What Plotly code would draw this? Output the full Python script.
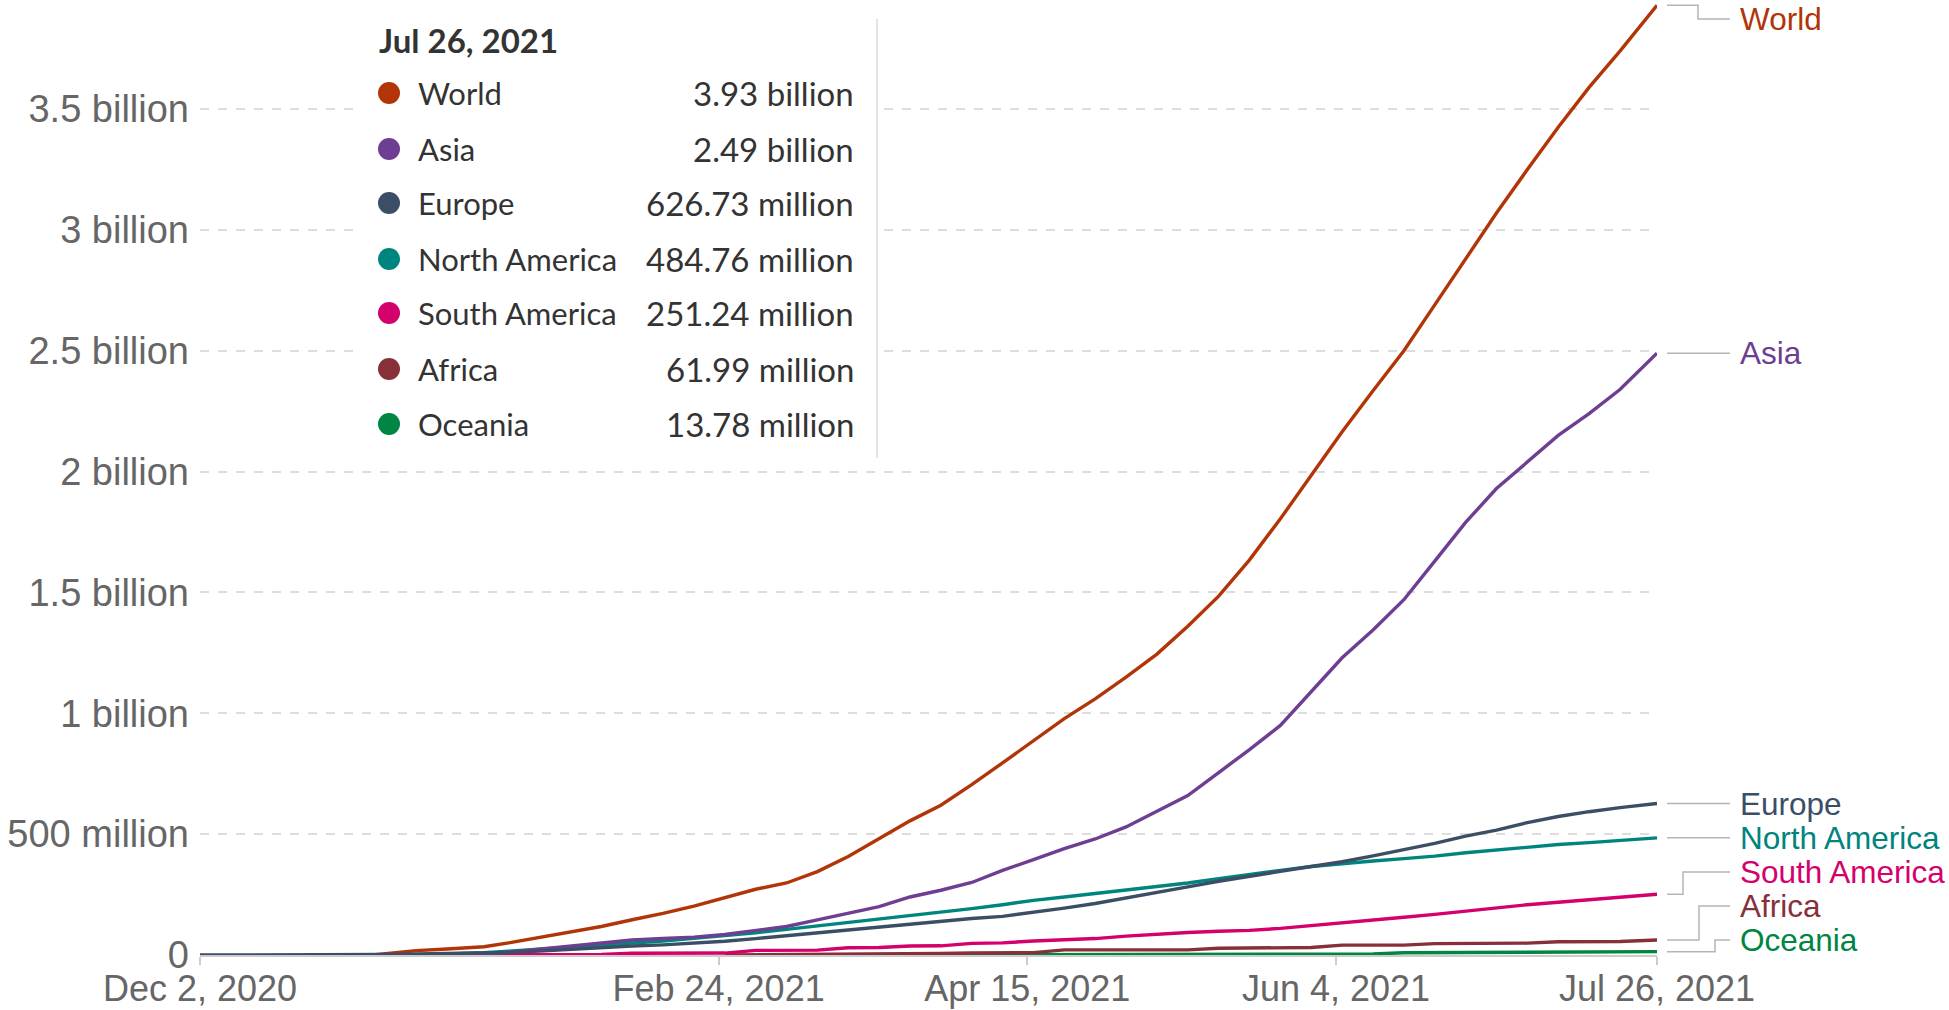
import plotly.graph_objects as go

# ---------------- data (values in millions) ----------------
dates = ["2020-12-02", "2020-12-27", "2020-12-30", "2021-01-01", "2021-01-06", "2021-01-11",
         "2021-01-17", "2021-01-21", "2021-01-26", "2021-01-31", "2021-02-05", "2021-02-10",
         "2021-02-15", "2021-02-20", "2021-02-25", "2021-03-02", "2021-03-07", "2021-03-12",
         "2021-03-17", "2021-03-22", "2021-03-27", "2021-04-01", "2021-04-06", "2021-04-11",
         "2021-04-16", "2021-04-21", "2021-04-26", "2021-05-01", "2021-05-06", "2021-05-11",
         "2021-05-16", "2021-05-21", "2021-05-26", "2021-05-31", "2021-06-05", "2021-06-10",
         "2021-06-15", "2021-06-20", "2021-06-25", "2021-06-30", "2021-07-05", "2021-07-10",
         "2021-07-15", "2021-07-20", "2021-07-26"]

world = [None, None, 0, 5, 18, 25, 34, 50, 72, 95, 118, 146, 172, 202, 236, 272, 298, 345,
         408, 480, 555, 620, 705, 795, 885, 978, 1060, 1150, 1245, 1360, 1485, 1635, 1805,
         1985, 2165, 2335, 2500, 2690, 2880, 3070, 3250, 3425, 3590, 3740, 3930]
asia = [None, None, None, None, None, 0, 2, 12, 25, 38, 50, 62, 68, 74, 85, 100, 118, 145,
        172, 200, 240, 268, 300, 350, 395, 440, 480, 530, 595, 660, 755, 850, 950, 1090,
        1230, 1345, 1470, 1630, 1790, 1930, 2040, 2150, 2240, 2340, 2490]
europe = [0, 0, 1, 2, 4, 6, 9, 11, 16, 24, 31, 37, 42, 48, 57, 68, 80, 91, 103, 115, 127,
          139, 151, 160, 176, 194, 213, 235, 258, 282, 305, 327, 346, 366, 386, 410, 436,
          462, 492, 517, 548, 573, 593, 610, 626.73]
north_america = [None, None, None, None, 0, 3, 10, 16, 24, 33, 41, 49, 58, 69, 80, 92, 106,
                 120, 134, 148, 164, 178, 192, 208, 226, 240, 254, 268, 282, 298, 316, 334,
                 350, 366, 379, 389, 399, 409, 423, 435, 446, 457, 465, 475, 484.76]
south_america = [None, None, None, None, None, 0.5, 1, 1, 1.5, 2, 2.5, 7, 7, 7.5, 8, 19, 19,
                 20, 30, 31, 37, 38, 48, 50, 58, 63, 68, 78, 86, 93, 98, 102, 110, 121, 131,
                 143, 156, 168, 182, 195, 208, 218, 228, 238, 251.24]
africa = [None, None, None, None, None, None, None, None, None, None, None, None, None,
          None, 0, 0.5, 1, 2, 3, 4, 5, 6, 8, 10, 10, 21, 21, 21, 21, 21, 28, 30, 30, 31, 41,
          41, 41, 47, 48, 48, 49, 55, 55, 56, 61.99]
oceania = [None, None, None, None, None, None, None, None, None, None, None, None, None,
           None, None, None, 0, 0.2, 0.4, 0.6, 0.8, 1, 1.2, 1.4, 1.6, 1.8, 2, 2.2, 2.5, 2.8,
           3, 3.2, 3.5, 3.8, 4, 4.2, 9, 9.3, 9.6, 10, 10.5, 11, 11.8, 12.6, 13.78]

series_names = ["World", "Asia", "Europe", "North America", "South America", "Africa", "Oceania"]
series_values = [world, asia, europe, north_america, south_america, africa, oceania]
series_colors = ["#B13507", "#6D3E91", "#3C4E66", "#00847E", "#D4006B", "#883039", "#008542"]
tooltip_values = ["3.93 billion", "2.49 billion", "626.73 million", "484.76 million",
                  "251.24 million", "61.99 million", "13.78 million"]
tooltip_title = "Jul 26, 2021"

y_tickvals = [0, 500e6, 1e9, 1.5e9, 2e9, 2.5e9, 3e9, 3.5e9]
y_ticktext = ["0", "500 million", "1 billion", "1.5 billion", "2 billion", "2.5 billion",
              "3 billion", "3.5 billion"]
x_tickvals = ["2020-12-02", "2021-02-24", "2021-04-15", "2021-06-04", "2021-07-26"]
x_ticktext = ["Dec 2, 2020", "Feb 24, 2021", "Apr 15, 2021", "Jun 4, 2021", "Jul 26, 2021"]

# ---------------- layout geometry (pixels) ----------------
W, H = 1949, 1010
L, R, T, B = 200, 1657, 4, 955
YMAX = 3.935e9


def pxx(x):
    return (x - L) / (R - L)


def pxy(y):
    return (B - y) / (B - T)


fig = go.Figure()

draw_order = [6, 5, 4, 3, 1, 0, 2]
for i in draw_order:
    vals = [None if v is None else v * 1e6 for v in series_values[i]]
    fig.add_trace(go.Scatter(x=dates, y=vals, mode="lines", name=series_names[i],
                             line=dict(color=series_colors[i], width=3.4),
                             hoverinfo="skip", showlegend=False))

# ---------------- end labels with connectors ----------------
label_y_px = [19, 353, 803, 837, 872, 906, 940]
elbow_x_px = [1698, None, None, None, 1683, 1699, 1715]
shapes = []
annotations = []
for i, name in enumerate(series_names):
    last = series_values[i][-1] * 1e6
    y0 = last / YMAX
    y1 = pxy(label_y_px[i])
    x0 = pxx(1667)
    x3 = pxx(1730)
    if elbow_x_px[i] is None:
        path = f"M {x0},{y0} L {x3},{y0}"
        y1 = y0
    else:
        xe = pxx(elbow_x_px[i])
        path = f"M {x0},{y0} L {xe},{y0} L {xe},{y1} L {x3},{y1}"
    shapes.append(dict(type="path", path=path, xref="paper", yref="paper",
                       line=dict(color="#B5B5B5", width=1.5), layer="above"))
    annotations.append(dict(x=pxx(1738), y=y1, xref="paper", yref="paper", text=name,
                            showarrow=False, xanchor="left", yanchor="middle",
                            font=dict(family="Liberation Sans, Arial", size=31.5,
                                      color=series_colors[i])))

# ---------------- tooltip box ----------------
shapes.append(dict(type="rect", xref="paper", yref="paper", x0=pxx(360), x1=pxx(877),
                   y0=pxy(458), y1=pxy(19), fillcolor="white", line=dict(width=0),
                   layer="above"))
shapes.append(dict(type="line", xref="paper", yref="paper", x0=pxx(877), x1=pxx(877),
                   y0=pxy(458), y1=pxy(19), line=dict(color="#DDDDDD", width=1.5),
                   layer="above"))
annotations.append(dict(x=pxx(377), y=pxy(40), xref="paper", yref="paper",
                        text="<b>" + tooltip_title + "</b>", showarrow=False,
                        xanchor="left", yanchor="middle",
                        font=dict(family="Lato", size=33, color="#333333")))
row_y = [93, 149, 203, 259, 313, 369, 424]
for i, name in enumerate(series_names):
    annotations.append(dict(x=pxx(416), y=pxy(row_y[i]), xref="paper", yref="paper",
                            text=name, showarrow=False, xanchor="left", yanchor="middle",
                            font=dict(family="Lato", size=31, color="#333333")))
    annotations.append(dict(x=pxx(856), y=pxy(row_y[i]), xref="paper", yref="paper",
                            text=tooltip_values[i], showarrow=False, xanchor="right",
                            yanchor="middle",
                            font=dict(family="Lato", size=33, color="#333333")))
    r = 11
    shapes.append(dict(type="circle", xref="paper", yref="paper",
                       x0=pxx(389 - r), x1=pxx(389 + r), y0=pxy(row_y[i] + r),
                       y1=pxy(row_y[i] - r), fillcolor=series_colors[i],
                       line=dict(width=0), layer="above"))

fig.update_layout(
    width=W, height=H,
    margin=dict(l=L, r=W - R, t=T, b=H - B, autoexpand=False),
    paper_bgcolor="white", plot_bgcolor="white",
    shapes=shapes, annotations=annotations,
    showlegend=False,
    xaxis=dict(type="date", range=["2020-12-02", "2021-07-26"],
               tickvals=x_tickvals, ticktext=x_ticktext, automargin=False,
               showgrid=False, zeroline=False,
               showline=True, linecolor="#CCCCCC", linewidth=1.5,
               ticks="outside", ticklen=8, tickcolor="#CCCCCC", tickwidth=1.5,
               ticklabelstandoff=-7,
               tickfont=dict(family="Liberation Sans, Arial", size=36, color="#666666")),
    yaxis=dict(range=[0, YMAX], tickvals=y_tickvals, ticktext=y_ticktext,
               automargin=False,
               showgrid=True, gridcolor="#DDDDDD", gridwidth=1.5, griddash="dash",
               zeroline=False, showline=False, ticks="",
               ticklabelstandoff=10,
               tickfont=dict(family="Liberation Sans, Arial", size=38, color="#666666")),
)

fig.write_html("out.html",
               config={"displayModeBar": False},
               post_script="document.body.style.margin='0';"
                           "document.body.style.overflow='hidden';")
